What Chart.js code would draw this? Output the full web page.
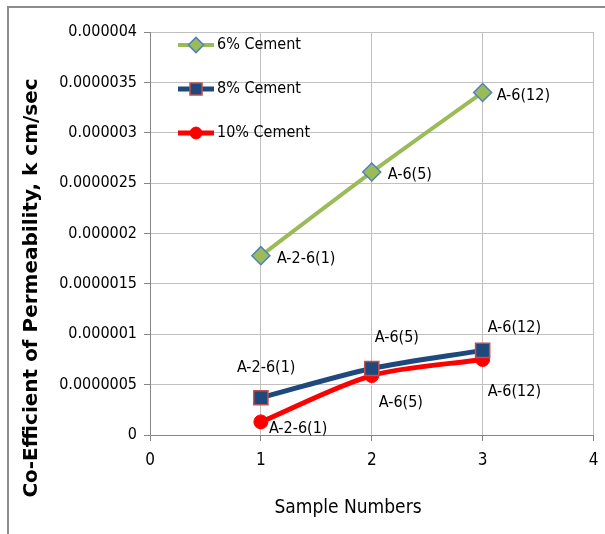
<html>
    <head>
        <title>Permeability chart</title>
        <meta charset="utf-8" />
        <style>
            body { margin: 0; background: #fff; }
            #chart { display: block; }
        </style>
    </head>
    <body>
        <canvas id="chart" width="605" height="534"></canvas>

        <script src="https://cdn.jsdelivr.net/npm/chart.js"></script>
        <script>
        // data
        const sampleNumbers = [1, 2, 3];
        const sampleNames = ['A-2-6(1)', 'A-6(5)', 'A-6(12)'];
        const cement6 = [0.00000178, 0.00000261, 0.0000034];
        const cement8 = [0.00000037, 0.00000066, 0.00000084];
        const cement10 = [0.00000013, 0.00000059, 0.00000075];
        const seriesNames = ['6% Cement', '8% Cement', '10% Cement'];
        const xTickLabels = ['0', '1', '2', '3', '4'];
        const yTickLabels = ['0', '0.0000005', '0.000001', '0.0000015', '0.000002',
            '0.0000025', '0.000003', '0.0000035', '0.000004'];

        const FONT = '"DejaVu Sans Condensed", "Liberation Sans Narrow", sans-serif';

        // where each point label sits, relative to its point
        const labelOffsets = [
            [[16, 3], [16, 3], [14, 3]],
            [[-24, -30], [3, -31], [5, -23]],
            [[8, 7], [7, 27], [5, 32]]
        ];

        function pts(values) {
            return values.map((v, i) => ({ x: sampleNumbers[i], y: v }));
        }

        const chartData = {
            datasets: [
                {
                    label: seriesNames[0],
                    data: pts(cement6),
                    borderColor: '#9bbb59',
                    backgroundColor: '#9bbb59',
                    borderWidth: 4,
                    pointStyle: 'rectRot',
                    pointRadius: 9,
                    pointBorderColor: '#4f81bd',
                    pointBorderWidth: 1.5,
                    tension: 0.3
                },
                {
                    label: seriesNames[1],
                    data: pts(cement8),
                    borderColor: '#1f497d',
                    backgroundColor: '#1f497d',
                    borderWidth: 5,
                    pointStyle: 'rect',
                    pointRadius: 10,
                    pointBorderColor: '#c0504d',
                    pointBorderWidth: 1.5,
                    tension: 0.3
                },
                {
                    label: seriesNames[2],
                    data: pts(cement10),
                    borderColor: '#ff0000',
                    backgroundColor: '#ff0000',
                    borderWidth: 5,
                    pointStyle: 'circle',
                    pointRadius: 7,
                    pointBorderColor: '#ff0000',
                    pointBorderWidth: 1,
                    tension: 0.3
                }
            ]
        };

        // frame, axis titles, legend and point labels
        const decorations = {
            id: 'decorations',
            beforeDraw(chart) {
                const c = chart.ctx;
                c.save();
                c.strokeStyle = '#8c8c8c';
                c.lineWidth = 2;
                c.strokeRect(8, 7, 640, 600);
                c.restore();
            },
            afterDatasetsDraw(chart) {
                const c = chart.ctx;
                const area = chart.chartArea;
                c.save();
                c.fillStyle = '#000';
                c.textBaseline = 'middle';

                // point labels
                c.font = '16px ' + FONT;
                c.textAlign = 'left';
                chart.data.datasets.forEach((ds, d) => {
                    chart.getDatasetMeta(d).data.forEach((p, i) => {
                        const off = labelOffsets[d][i];
                        c.fillText(sampleNames[i], p.x + off[0], p.y + off[1]);
                    });
                });

                // legend inside the plot
                chart.data.datasets.forEach((ds, d) => {
                    const y = area.top + 13 + d * 44;
                    const x0 = area.left + 28;
                    c.strokeStyle = ds.borderColor;
                    c.lineWidth = ds.borderWidth;
                    c.beginPath();
                    c.moveTo(x0, y);
                    c.lineTo(x0 + 36, y);
                    c.stroke();
                    c.fillStyle = ds.backgroundColor;
                    c.strokeStyle = ds.pointBorderColor;
                    c.lineWidth = ds.pointBorderWidth;
                    Chart.helpers.drawPoint(c, {
                        pointStyle: ds.pointStyle,
                        radius: ds.pointRadius * 0.85,
                        borderWidth: ds.pointBorderWidth
                    }, x0 + 18, y);
                    c.fillStyle = '#000';
                    c.font = '16px ' + FONT;
                    c.fillText(ds.label, x0 + 39, y);
                });

                // axis titles
                c.textAlign = 'center';
                c.font = '19px ' + FONT;
                c.fillText('Sample Numbers', 348, 508);
                c.translate(32, 288);
                c.rotate(-Math.PI / 2);
                c.font = 'bold 20px "DejaVu Sans", sans-serif';
                c.fillText('Co-Efficient of Permeability, k cm/sec', 0, 0);
                c.restore();
            }
        };

        const chartOptions = {
            responsive: false,
            animation: false,
            layout: { padding: { left: 0, top: 32, right: 4, bottom: 0 } },
            plugins: {
                legend: { display: false },
                tooltip: { enabled: false }
            },
            scales: {
                x: {
                    type: 'linear',
                    min: 0,
                    max: 4,
                    afterFit(scale) {
                        scale.height = 99;
                        scale.paddingLeft = 0;
                        scale.paddingRight = 0;
                    },
                    border: { color: '#868686', width: 1 },
                    grid: { color: '#c0c0c0', tickLength: 6, tickColor: '#868686' },
                    ticks: {
                        stepSize: 1,
                        padding: 9,
                        color: '#000',
                        font: { family: FONT, size: 17 },
                        callback: (v, i) => xTickLabels[i]
                    }
                },
                y: {
                    min: 0,
                    max: 0.000004,
                    afterFit(scale) { scale.width = 150; },
                    border: { color: '#868686', width: 1 },
                    grid: { color: '#c0c0c0', tickLength: 6, tickColor: '#868686' },
                    ticks: {
                        stepSize: 0.0000005,
                        padding: 7,
                        color: '#000',
                        font: { family: FONT, size: 16 },
                        callback: (v, i) => yTickLabels[i]
                    }
                }
            }
        };

        new Chart(document.getElementById('chart'), {
            type: 'line',
            data: chartData,
            options: chartOptions,
            plugins: [decorations]
        });
        </script>
    </body>
</html>
